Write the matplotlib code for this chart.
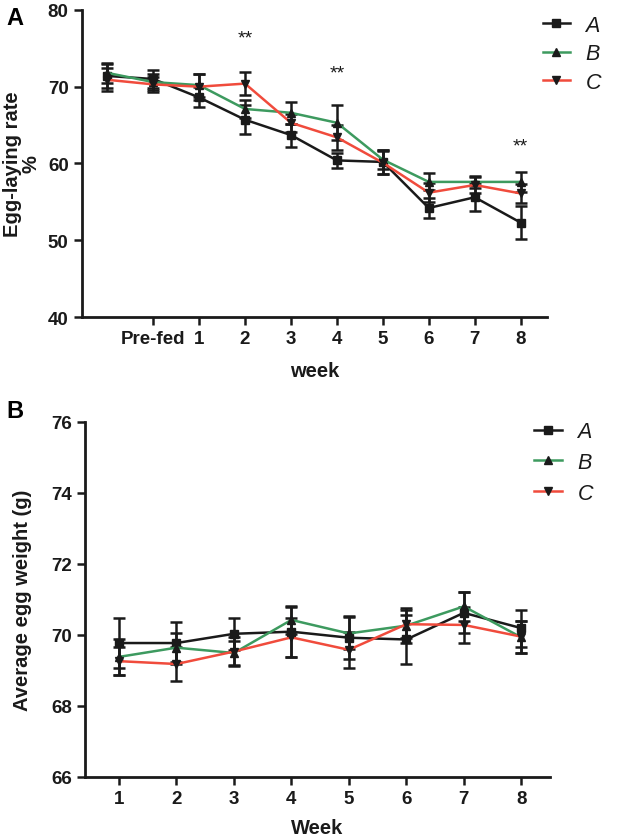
import matplotlib.pyplot as plt
from matplotlib.lines import Line2D

plt.rcParams['font.family'] = ['Liberation Sans', 'DejaVu Sans']

# panel A: egg-laying rate (%), positions -1..8 (first point unlabeled)
week_pos_a = [-1, 0, 1, 2, 3, 4, 5, 6, 7, 8]
tick_pos_a = [0, 1, 2, 3, 4, 5, 6, 7, 8]
tick_lab_a = ['Pre-fed', '1', '2', '3', '4', '5', '6', '7', '8']
rate_a = [71.4, 71.0, 68.6, 65.7, 63.7, 60.4, 60.2, 54.2, 55.6, 52.3]
rate_b = [71.8, 70.6, 70.2, 67.1, 66.6, 65.3, 60.5, 57.6, 57.6, 57.6]
rate_c = [70.9, 70.3, 70.0, 70.4, 65.3, 63.4, 60.1, 56.2, 57.2, 56.1]
rate_err_a = [1.6, 1.2, 1.3, 1.9, 1.5, 1.0, 1.6, 1.3, 1.8, 2.2]
rate_err_b = [1.3, 1.0, 1.5, 1.2, 1.4, 2.3, 1.2, 1.1, 0.8, 1.3]
rate_err_c = [1.5, 1.0, 1.7, 1.5, 1.2, 1.6, 1.5, 1.2, 1.0, 1.2]
star_weeks = [2, 4, 8]
star_y = [76.3, 71.8, 62.3]

# panel B: average egg weight (g)
weeks_b = [1, 2, 3, 4, 5, 6, 7, 8]
wt_a = [69.77, 69.77, 70.03, 70.09, 69.92, 69.87, 70.62, 70.19]
wt_b = [69.38, 69.64, 69.49, 70.42, 70.04, 70.26, 70.80, 69.93]
wt_c = [69.26, 69.18, 69.53, 69.93, 69.58, 70.30, 70.28, 69.95]
wt_err_a = [0.70, 0.60, 0.45, 0.70, 0.60, 0.68, 0.58, 0.52]
wt_err_b = [0.50, 0.40, 0.35, 0.40, 0.45, 0.50, 0.40, 0.45]
wt_err_c = [0.40, 0.48, 0.40, 0.55, 0.50, 0.40, 0.50, 0.45]

labels = ['A', 'B', 'C']
line_colors = ['#1a1a1a', '#3d9a5f', '#f04b3c']
markers = ['s', '^', 'v']


def style_axes(ax):
    for side in ['top', 'right']:
        ax.spines[side].set_visible(False)
    for side in ['left', 'bottom']:
        ax.spines[side].set_linewidth(2)
        ax.spines[side].set_color('#1a1a1a')
    ax.tick_params(width=1.8, length=6, labelsize=13.5, color='#1a1a1a')
    for lab in ax.get_xticklabels() + ax.get_yticklabels():
        lab.set_fontweight('bold')
        lab.set_color('#1a1a1a')


def draw_series(ax, x, ys, errs):
    for y, e, c, m in zip(ys, errs, line_colors, markers):
        ax.errorbar(x, y, yerr=e, fmt='none', ecolor='#1a1a1a', elinewidth=1.8,
                    capsize=4.5, capthick=1.8, zorder=2)
        ax.plot(x, y, '-', color=c, lw=1.8, marker=m, ms=6,
                mfc='#1a1a1a', mec='#1a1a1a', zorder=3)


def add_legend(ax, loc_x, loc_y, spacing):
    handles = [Line2D([], [], color=c, lw=1.8, marker=m, ms=6,
                      mfc='#1a1a1a', mec='#1a1a1a')
               for c, m in zip(line_colors, markers)]
    leg = ax.legend(handles, labels, loc='upper left', bbox_to_anchor=(loc_x, loc_y),
                    frameon=False, handlelength=1.3, handletextpad=0.7,
                    labelspacing=spacing, prop={'style': 'italic', 'size': 15.5})
    for t in leg.get_texts():
        t.set_color('#1a1a1a')


fig = plt.figure(figsize=(6.3, 8.37), dpi=100)

ax = fig.add_axes([0.130, 0.620, 0.738, 0.367])
draw_series(ax, week_pos_a, [rate_a, rate_b, rate_c],
            [rate_err_a, rate_err_b, rate_err_c])
for w, sy in zip(star_weeks, star_y):
    ax.text(w, sy, '**', ha='center', va='center', fontsize=14, color='#1a1a1a')
ax.set_xlim(-1.55, 8.57)
ax.set_ylim(40, 80)
ax.set_yticks([40, 50, 60, 70, 80])
ax.set_xticks(tick_pos_a)
ax.set_xticklabels(tick_lab_a)
ax.set_xlabel('week', fontsize=14.5, fontweight='bold', color='#1a1a1a', labelpad=10)
ax.set_ylabel('Egg-laying rate\n%', fontsize=14.5, fontweight='bold',
              color='#1a1a1a', labelpad=5, linespacing=1.0)
style_axes(ax)
add_legend(ax, 0.949, 1.048, 0.35)
fig.text(0.010, 0.992, 'A', fontsize=17, fontweight='bold', va='top')

ax = fig.add_axes([0.135, 0.0705, 0.738, 0.4245])
draw_series(ax, weeks_b, [wt_a, wt_b, wt_c], [wt_err_a, wt_err_b, wt_err_c])
ax.set_xlim(0.41, 8.5)
ax.set_ylim(66, 76)
ax.set_yticks([66, 68, 70, 72, 74, 76])
ax.set_xticks(weeks_b)
ax.set_xlabel('Week', fontsize=14.5, fontweight='bold', color='#1a1a1a', labelpad=8)
ax.set_ylabel('Average egg weight (g)', fontsize=14.5, fontweight='bold',
              color='#1a1a1a', labelpad=14)
style_axes(ax)
add_legend(ax, 0.925, 1.056, 0.45)
fig.text(0.010, 0.522, 'B', fontsize=17, fontweight='bold', va='top')

fig.savefig('out.png', dpi=100)
